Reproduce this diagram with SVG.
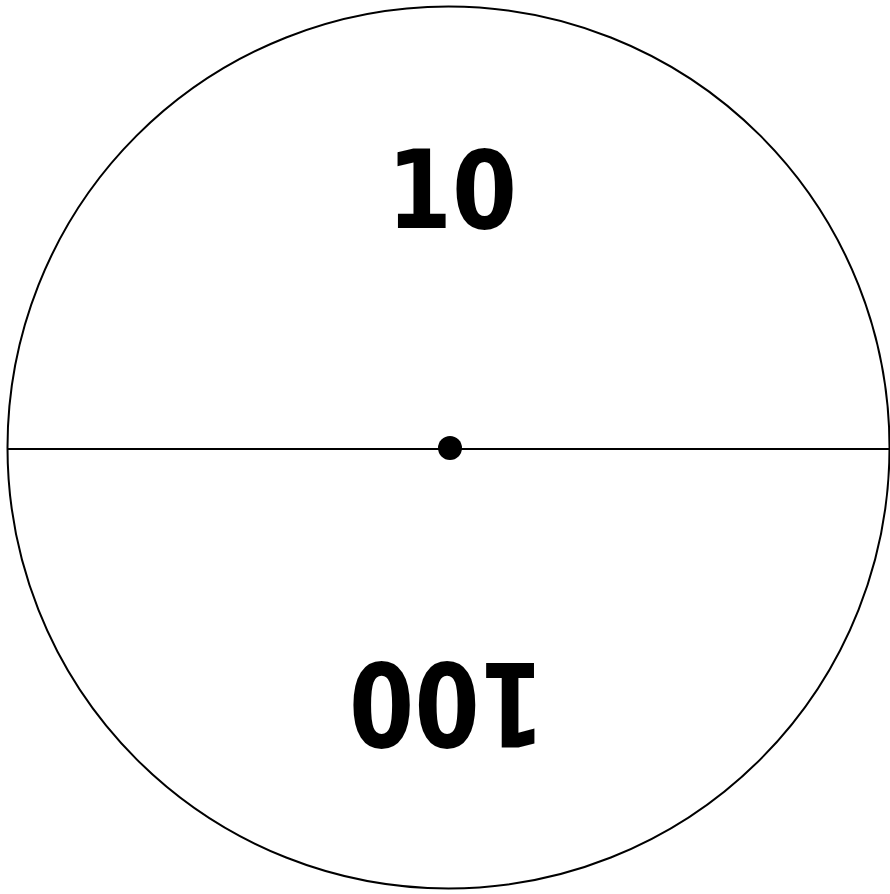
<svg xmlns="http://www.w3.org/2000/svg" width="890" height="894" viewBox="0 0 890 894">
<style>
.lbl{font-family:"DejaVu Sans","Liberation Sans",sans-serif;font-weight:bold;fill:#000;text-anchor:middle}
.ln{fill:none;stroke:#000;stroke-width:2}
</style>
<rect width="890" height="894" fill="#fff"/>
<g id="circle">
<circle class="ln" cx="448.5" cy="447.5" r="441"/>
</g>
<g id="connectors">
<line class="ln" x1="8" y1="449" x2="890" y2="449"/>
</g>
<g id="center">
<circle cx="450" cy="448" r="12" fill="#000"/>
</g>
<g id="label-top">
<text class="lbl" x="452" y="228" font-size="109" textLength="130" lengthAdjust="spacingAndGlyphs">10</text>
</g>
<g id="label-bottom">
<text class="lbl" x="447" y="747" font-size="115" textLength="196" lengthAdjust="spacingAndGlyphs" transform="rotate(180 447 705)">100</text>
</g>
</svg>
